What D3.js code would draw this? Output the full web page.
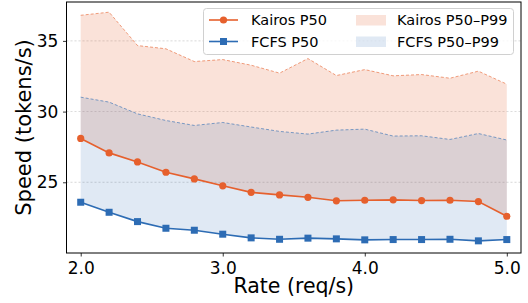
<!DOCTYPE html>
<html>
<head>
<script src="https://d3js.org/d3.v7.min.js"></script>
<style>
  body { margin: 0; background: #fff; }
  svg text { font-family: "DejaVu Sans", sans-serif; fill: #000; }
</style>
</head>
<body>
<div id="chart"></div>
<script>
// rate values (req/s)
const rates = [2.0, 2.2, 2.4, 2.6, 2.8, 3.0, 3.2, 3.4, 3.6, 3.8, 4.0, 4.2, 4.4, 4.6, 4.8, 5.0];
const kairosP50 = [28.1, 27.08, 26.44, 25.71, 25.24, 24.75, 24.29, 24.11, 23.94, 23.69, 23.73, 23.76, 23.71, 23.73, 23.64, 22.6];
const kairosP99 = [36.81, 37.03, 34.67, 34.44, 33.54, 33.68, 33.28, 32.72, 33.75, 32.55, 32.97, 32.53, 32.62, 32.36, 32.86, 31.94];
const fcfsP50 = [23.59, 22.88, 22.22, 21.75, 21.61, 21.33, 21.07, 20.97, 21.05, 21.0, 20.93, 20.95, 20.95, 20.97, 20.86, 20.95];
const fcfsP99 = [31.02, 30.67, 29.84, 29.37, 29.02, 29.23, 28.91, 28.6, 28.41, 28.69, 28.76, 28.27, 28.29, 28.03, 28.45, 27.99];
const xTicks = [2.0, 3.0, 4.0, 5.0];
const yTicks = [25, 30, 35];

const W = 528, H = 303;
const pl = 66.5, pr = 521, pt = 2, pb = 253;
const orange = "#e6602d", blue = "#2d6cb4";

const svg = d3.select("#chart").append("svg")
    .attr("width", W).attr("height", H);

const x = d3.scaleLinear().domain([1.9, 5.1]).range([pl, pr]);
const y = d3.scaleLinear().domain([20, 37.75]).range([pb, pt]);

// grid
svg.append("g").selectAll("line").data(yTicks).join("line")
    .attr("x1", pl).attr("x2", pr)
    .attr("y1", d => y(d)).attr("y2", d => y(d))
    .attr("stroke", "#b0b0b0").attr("stroke-width", 0.8)
    .attr("stroke-dasharray", "2,2").attr("opacity", 0.6);

const series = [
  { name: "Kairos", p50: kairosP50, p99: kairosP99, color: orange, shape: "circle", fillOp: 0.18 },
  { name: "FCFS", p50: fcfsP50, p99: fcfsP99, color: blue, shape: "square", fillOp: 0.15 }
];

// bands
series.forEach(s => {
  const area = d3.area()
      .x((d, i) => x(rates[i]))
      .y0((d, i) => y(s.p50[i]))
      .y1((d, i) => y(s.p99[i]));
  svg.append("path").datum(rates)
      .attr("d", area)
      .attr("fill", s.color).attr("fill-opacity", s.fillOp);
});

// P99 dashed
series.forEach(s => {
  const line = d3.line().x((d, i) => x(rates[i])).y((d, i) => y(s.p99[i]));
  svg.append("path").datum(rates)
      .attr("d", line)
      .attr("fill", "none").attr("stroke", s.color)
      .attr("stroke-width", 1).attr("stroke-opacity", 0.6)
      .attr("stroke-dasharray", "3,2");
});

// P50 lines + markers
series.forEach(s => {
  const line = d3.line().x((d, i) => x(rates[i])).y((d, i) => y(s.p50[i]));
  svg.append("path").datum(rates)
      .attr("d", line)
      .attr("fill", "none").attr("stroke", s.color).attr("stroke-width", 1.6);
  const g = svg.append("g");
  if (s.shape === "circle") {
    g.selectAll("circle").data(rates).join("circle")
        .attr("cx", d => x(d)).attr("cy", (d, i) => y(s.p50[i]))
        .attr("r", 3.6).attr("fill", s.color);
  } else {
    g.selectAll("rect").data(rates).join("rect")
        .attr("x", d => x(d) - 3.5).attr("y", (d, i) => y(s.p50[i]) - 3.5)
        .attr("width", 7).attr("height", 7).attr("fill", s.color);
  }
});

// axes
const xAxis = svg.append("g")
    .attr("transform", `translate(0,${pb})`)
    .call(d3.axisBottom(x).tickValues(xTicks).tickFormat(d3.format(".1f")).tickSizeOuter(0).tickSize(3.5));
const yAxis = svg.append("g")
    .attr("transform", `translate(${pl},0)`)
    .call(d3.axisLeft(y).tickValues(yTicks).tickSizeOuter(0).tickSize(3.5));
[xAxis, yAxis].forEach(a => {
  a.select(".domain").remove();
  a.selectAll("text").style("font-size", "17px").attr("fill", "#000");
  a.selectAll("line").attr("stroke", "#000").attr("stroke-width", 0.8);
});
xAxis.selectAll("text").attr("dy", "0.85em");
yAxis.selectAll("text").attr("dx", "-0.1em");

// frame
svg.append("rect")
    .attr("x", pl).attr("y", pt)
    .attr("width", pr - pl).attr("height", pb - pt)
    .attr("fill", "none").attr("stroke", "#000").attr("stroke-width", 1);

// axis labels
svg.append("text")
    .attr("x", (pl + pr) / 2).attr("y", 293)
    .attr("text-anchor", "middle").style("font-size", "20.5px")
    .text("Rate (req/s)");
svg.append("text")
    .attr("transform", `translate(31,${(pt + pb) / 2}) rotate(-90)`)
    .attr("text-anchor", "middle").style("font-size", "21px")
    .text("Speed (tokens/s)");

// legend
const lg = svg.append("g");
lg.append("rect")
    .attr("x", 203.5).attr("y", 8.5).attr("width", 310).attr("height", 46)
    .attr("rx", 3).attr("fill", "#fff").attr("fill-opacity", 0.8)
    .attr("stroke", "#d0d0d0").attr("stroke-width", 1);
const rowY = [20, 41.5];
series.forEach((s, i) => {
  const yy = rowY[i];
  lg.append("line").attr("x1", 209).attr("x2", 238).attr("y1", yy).attr("y2", yy)
      .attr("stroke", s.color).attr("stroke-width", 1.6);
  if (s.shape === "circle") {
    lg.append("circle").attr("cx", 223.5).attr("cy", yy).attr("r", 3.6).attr("fill", s.color);
  } else {
    lg.append("rect").attr("x", 220).attr("y", yy - 3.5).attr("width", 7).attr("height", 7).attr("fill", s.color);
  }
  lg.append("text").attr("x", 251).attr("y", yy).attr("dy", "0.36em")
      .style("font-size", "14.5px").text(s.name + " P50");
  lg.append("rect").attr("x", 356).attr("y", yy - 5).attr("width", 30).attr("height", 10.5)
      .attr("fill", s.color).attr("fill-opacity", s.fillOp);
  lg.append("text").attr("x", 397).attr("y", yy).attr("dy", "0.36em")
      .style("font-size", "14.5px").text(s.name + " P50\u2013P99");
});
</script>
</body>
</html>
